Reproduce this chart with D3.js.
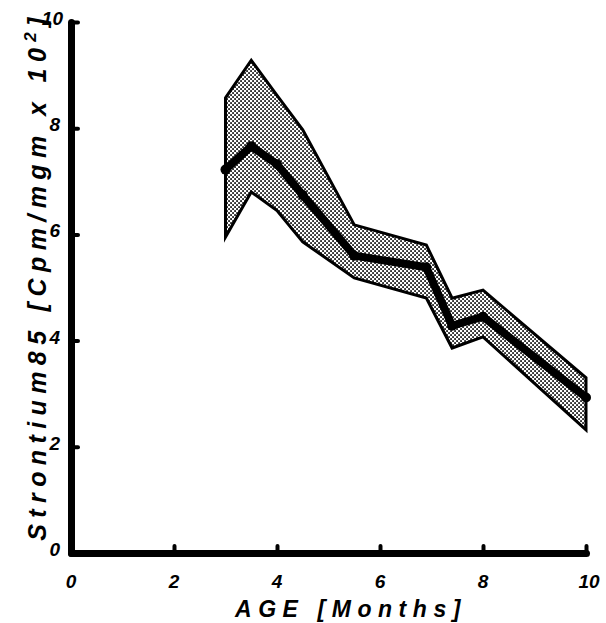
<!DOCTYPE html>
<html>
<head>
<meta charset="utf-8">
<script src="https://cdn.jsdelivr.net/npm/d3@7"></script>
<style>
  body { margin: 0; background: #fff; }
  svg { display: block; }
  text { font-family: "Liberation Sans", Arial, sans-serif; font-style: italic; font-weight: bold; fill: #000; }
</style>
</head>
<body>
<svg id="svg"></svg>
<script>
// Data
const ages = [3, 3.5, 4, 4.5, 5.5, 6.9, 7.4, 8, 10];
const meanVals = [7.22, 7.66, 7.32, 6.74, 5.6, 5.38, 4.28, 4.45, 2.93];
const upperVals = [8.57, 9.28, 8.62, 7.97, 6.18, 5.8, 4.8, 4.95, 3.3];
const lowerVals = [5.95, 6.8, 6.45, 5.86, 5.18, 4.8, 3.86, 4.07, 2.32];
const xTicks = [0, 2, 4, 6, 8, 10];
const yTicks = [0, 2, 4, 6, 8, 10];

let width = 606, height = 623;

const svg = d3.select("#svg").attr("width", width).attr("height", height);

const x = d3.scaleLinear().domain([0, 10]).range([71, 586]);
const y = d3.scaleLinear().domain([0, 10]).range([553, 22]);

// dotted screen for the band
const defs = svg.append("defs");
const pat = defs.append("pattern")
    .attr("id", "dots")
    .attr("patternUnits", "userSpaceOnUse")
    .attr("width", 4).attr("height", 4);
pat.append("rect").attr("width", 4).attr("height", 4).attr("fill", "#fff");
pat.append("rect").attr("x", 0.2).attr("y", 0.2).attr("width", 1.7).attr("height", 1.7).attr("fill", "#000");
pat.append("rect").attr("x", 2.2).attr("y", 2.2).attr("width", 1.7).attr("height", 1.7).attr("fill", "#000");

const rows = ages.map((a, i) => ({ age: a, mean: meanVals[i], hi: upperVals[i], lo: lowerVals[i] }));

const band = d3.area()
    .x(d => x(d.age))
    .y0(d => y(d.lo))
    .y1(d => y(d.hi));

svg.append("path")
    .datum(rows)
    .attr("d", band(rows) + "Z")
    .attr("fill", "url(#dots)")
    .attr("stroke", "#000")
    .attr("stroke-width", 3)
    .attr("stroke-linejoin", "miter");

const meanLine = d3.line()
    .x(d => x(d.age))
    .y(d => y(d.mean));

svg.append("path")
    .datum(rows)
    .attr("d", meanLine)
    .attr("fill", "none")
    .attr("stroke", "#000")
    .attr("stroke-width", 8)
    .attr("stroke-linejoin", "round");

svg.selectAll(".pt")
    .data(rows)
    .enter()
    .append("circle")
    .attr("class", "pt")
    .attr("cx", d => x(d.age))
    .attr("cy", d => y(d.mean))
    .attr("r", 5)
    .attr("fill", "#000");

// axes
const xAxis = svg.append("g")
    .attr("transform", "translate(0," + y(0) + ")")
    .call(d3.axisBottom(x).tickValues(xTicks).tickSize(-7).tickSizeOuter(0).tickFormat(""));
const yAxis = svg.append("g")
    .attr("transform", "translate(" + x(0) + ",0)")
    .call(d3.axisLeft(y).tickValues(yTicks).tickSize(-7).tickSizeOuter(0).tickFormat(""));

[xAxis, yAxis].forEach(g => {
    g.select(".domain").attr("stroke", "#000").attr("stroke-width", 7).attr("stroke-linecap", "round");
    g.selectAll(".tick line").attr("stroke", "#000").attr("stroke-width", 4).attr("stroke-linecap", "round");
});

svg.selectAll(".xlab")
    .data(xTicks)
    .enter()
    .append("text")
    .attr("class", "xlab")
    .attr("x", d => x(d) + (d === 10 ? 3 : 0))
    .attr("y", 588)
    .attr("text-anchor", "middle")
    .attr("font-size", 19)
    .text(d => d);

svg.selectAll(".ylab")
    .data(yTicks)
    .enter()
    .append("text")
    .attr("class", "ylab")
    .attr("x", d => d === 10 ? 63 : 60)
    .attr("y", d => y(d) + 3)
    .attr("text-anchor", "end")
    .attr("font-size", 19)
    .text(d => d);

// spread the letters of a title so it covers the same length as in the figure
function fitSpacing(sel, target, nChars) {
    sel.attr("letter-spacing", 0);
    const natural = sel.node().getComputedTextLength();
    sel.attr("letter-spacing", Math.max(0, (target - natural) / nChars));
}

// titles
const xt = svg.append("text")
    .attr("x", 351)
    .attr("y", 617)
    .attr("text-anchor", "middle")
    .attr("font-size", 23)
    .text("AGE [Months]");
fitSpacing(xt, 232, 12);

const yt = svg.append("text")
    .attr("transform", "translate(46,276) rotate(-90)")
    .attr("text-anchor", "middle")
    .attr("font-size", 25);
yt.append("tspan").text("Strontium85 [Cpm/mgm x 10");
yt.append("tspan").attr("dy", -10).attr("font-size", 17).text("2");
yt.append("tspan").attr("dy", 10).text("]");
fitSpacing(yt, 536, 28);
</script>
</body>
</html>
